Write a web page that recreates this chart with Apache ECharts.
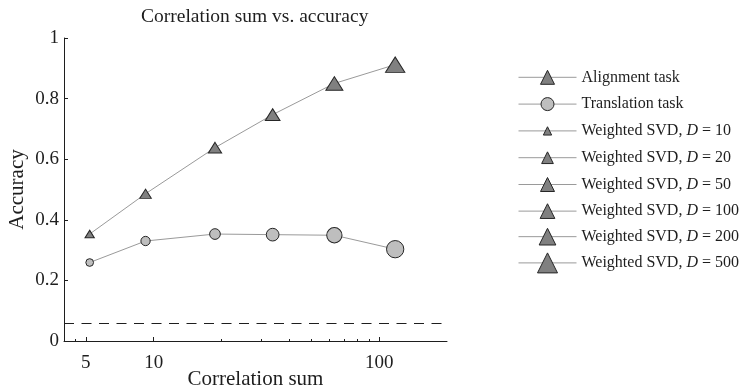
<!DOCTYPE html>
<html>
<head>
<meta charset="utf-8">
<script src="https://cdn.jsdelivr.net/npm/echarts@6/dist/echarts.min.js"></script>
<style>
  html, body { margin: 0; padding: 0; background: #fff; }
  #chart { width: 743px; height: 386px; }
</style>
</head>
<body>
<div id="chart"></div>
<script>
// Embedding dimensions D and the correlation sum reached at each one
const dims = [10, 20, 50, 100, 200, 500];
const correlationSum = [5.2, 9.2, 18.7, 33.7, 63.3, 117.8];
// Accuracy per task at each D
const alignmentAcc = [0.353, 0.486, 0.638, 0.747, 0.85, 0.912];
const translationAcc = [0.259, 0.330, 0.353, 0.351, 0.349, 0.303];
// Chance level (dashed reference line)
const chanceLevel = 0.059;
// Axis ticks
const xMajorTicks = [5, 10, 100];
const xMinorTicks = [4.5, 20, 30, 40, 50, 60, 70, 80, 90];
const seriesNames = ['Alignment task', 'Translation task'];

// ---- styling ----
const FONT = '"Liberation Serif", "Times New Roman", serif';
const INK = '#1e1e1e';
const LINE = '#9a9a9a';
const TRI_FILL = '#808080';
const CIRC_FILL = '#bebebe';
const EDGE = '#262626';
// marker widths grow with D
const triWidths = [9.3, 11.5, 13.3, 14.7, 17, 19.3];
const circWidths = [7.7, 9.3, 10.7, 12.7, 15.3, 17.3];
const legendIconSizes = [14, 13, 8.3, 11.7, 14, 14.7, 16.7, 20];

const pairs = ys => ys.map((y, i) => [correlationSum[i], y]);

const markerStyle = fill => ({ color: fill, borderColor: EDGE, borderWidth: 1, opacity: 1 });

const dimNames = dims.map(d => 'Weighted SVD, D = ' + d);
const legendNames = seriesNames.concat(dimNames);

const series = [
  {
    name: seriesNames[0], type: 'line', data: pairs(alignmentAcc),
    symbol: 'triangle',
    symbolSize: (v, p) => [triWidths[p.dataIndex], triWidths[p.dataIndex] * 0.8],
    lineStyle: { color: LINE, width: 1 },
    itemStyle: markerStyle(TRI_FILL),
    z: 3,
    markLine: {
      silent: true, symbol: ['none', 'none'], label: { show: false },
      lineStyle: { color: INK, width: 1, type: [10, 7.5] },
      data: [{ yAxis: chanceLevel }]
    }
  },
  {
    name: seriesNames[1], type: 'line', data: pairs(translationAcc),
    symbol: 'circle',
    symbolSize: (v, p) => circWidths[p.dataIndex],
    lineStyle: { color: LINE, width: 1 },
    itemStyle: markerStyle(CIRC_FILL),
    z: 3
  }
].concat(dimNames.map(n => ({
  name: n, type: 'line', data: [], symbol: 'triangle',
  lineStyle: { color: LINE, width: 1 },
  itemStyle: markerStyle(TRI_FILL)
})));

// one legend block per row so each icon keeps its own marker size
const ROW0 = 77.3, ROW_STEP = 26.8;
const legends = legendNames.map((name, i) => {
  const ih = legendIconSizes[i] / 0.8;
  return {
    data: [name],
    left: 518,
    top: ROW0 + i * ROW_STEP - Math.max(ih / 2, 9),
    padding: 0,
    itemWidth: 58,
    itemHeight: ih,
    selectedMode: false,
    itemStyle: { borderWidth: 1, borderColor: EDGE },
    lineStyle: { width: 1, color: LINE },
    formatter: nm => nm.replace('D =', '{i|D} ='),
    textStyle: {
      fontFamily: FONT, fontSize: 16, color: INK, lineHeight: 18,
      rich: { i: { fontFamily: FONT, fontSize: 16, fontStyle: 'italic', color: INK, lineHeight: 18 } }
    }
  };
});

const chart = echarts.init(document.getElementById('chart'), null, { renderer: 'canvas' });
chart.setOption({
  animation: false,
  backgroundColor: '#fff',
  title: {
    text: 'Correlation sum vs. accuracy',
    left: 141, top: 7, padding: 0,
    textStyle: { fontFamily: FONT, fontSize: 19.5, fontWeight: 'normal', color: INK }
  },
  legend: legends,
  grid: { left: 64, right: 296, top: 38, bottom: 45, containLabel: false, outerBoundsMode: 'none' },
  xAxis: [
    {
      type: 'log', logBase: 10, min: 4, max: 200,
      name: 'Correlation sum', nameLocation: 'middle', nameGap: 28, nameMoveOverlap: false,
      nameTextStyle: { fontFamily: FONT, fontSize: 21, color: INK },
      axisLine: { lineStyle: { color: INK, width: 1 } },
      axisTick: { inside: true, length: 4, customValues: xMajorTicks, lineStyle: { color: INK } },
      axisLabel: { customValues: xMajorTicks, fontFamily: FONT, fontSize: 19, color: INK, margin: 13 },
      splitLine: { show: false }, minorTick: { show: false }
    },
    {
      type: 'log', logBase: 10, min: 4, max: 200, position: 'bottom',
      axisLine: { show: false },
      axisTick: { inside: true, length: 2, customValues: xMinorTicks, lineStyle: { color: INK } },
      axisLabel: { show: false },
      splitLine: { show: false }
    }
  ],
  yAxis: {
    type: 'value', min: 0, max: 1, interval: 0.2,
    name: 'Accuracy', nameLocation: 'middle', nameRotate: 90, nameGap: 36, nameMoveOverlap: false,
    nameTextStyle: { fontFamily: FONT, fontSize: 21, color: INK },
    axisLine: { show: true, lineStyle: { color: INK, width: 1 } },
    axisTick: { show: true, inside: true, length: 4, lineStyle: { color: INK } },
    axisLabel: { fontFamily: FONT, fontSize: 19, color: INK, margin: 5 },
    splitLine: { show: false }
  },
  series: series
});
</script>
</body>
</html>
